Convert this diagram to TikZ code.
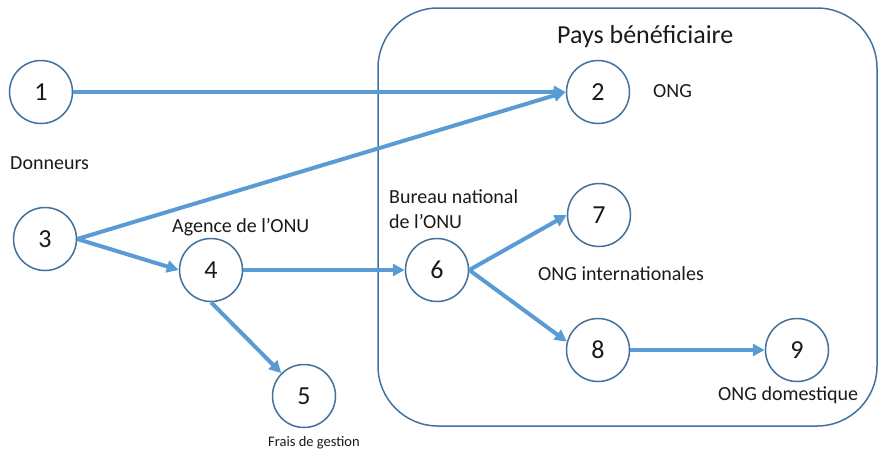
\documentclass[tikz,border=0pt]{standalone}
\usepackage{fontspec}
\setmainfont{Carlito}
\usetikzlibrary{arrows.meta}
\definecolor{outl}{HTML}{41719C}
\definecolor{arr}{HTML}{5B9BD5}
\definecolor{txt}{HTML}{1A1A1A}
\tikzset{
  num/.style={circle, draw=outl, line width=1.5pt, fill=white, minimum size=63pt, inner sep=0pt,
    font=\fontsize{26}{26}\selectfont, text=txt},
  flow/.style={draw=arr, line width=4pt, -{Triangle[length=12pt,width=12pt]}},
  lbl/.style={anchor=base west, inner sep=0pt, text=txt, font=\fontsize{20}{25}\selectfont},
  small/.style={anchor=base west, inner sep=0pt, text=txt, font=\fontsize{14.5}{17}\selectfont},
  frame/.style={draw=outl, line width=1.5pt, rounded corners=60pt}
}
\begin{document}
\begin{tikzpicture}[x=1pt,y=-1pt]
\useasboundingbox (0,0) rectangle (878,456);
\draw[frame] (378,8) rectangle (877,426);
\node[num] (n1) at (41,92) {1};
\node[num] (n2) at (598,92) {2};
\node[num] (n3) at (45,239) {3};
\node[num] (n4) at (211,270) {4};
\node[num] (n5) at (304,396) {5};
\node[num] (n6) at (437,270) {6};
\node[num] (n7) at (599,215) {7};
\node[num] (n8) at (598,350) {8};
\node[num] (n9) at (797,350) {9};
\node[anchor=base west, inner sep=0pt, text=txt, font=\fontsize{26}{30}\selectfont] (title) at (557,43) {Pays bénéficiaire};
\node[lbl] (ong) at (653,97) {ONG};
\node[lbl] (don) at (10,169) {Donneurs};
\node[lbl] (agence) at (172,232) {Agence de l’ONU};
\node[lbl] (bur1) at (389,203) {Bureau national};
\node[lbl] (bur2) at (389,228) {de l’ONU};
\node[lbl] (ongi) at (538,280) {ONG internationales};
\node[lbl] (ongd) at (718,400) {ONG domestique};
\node[small] (frais) at (268,446) {Frais de gestion};
\draw[flow] (n1.east) -- (n2.west);
\draw[flow] (n3.east) -- (n2.west);
\draw[flow] (n3.east) -- (n4.west);
\draw[flow] (n4.east) -- (n6.west);
\draw[flow] (n4.south) -- (n5);
\draw[flow] (n6.east) -- (n7.west);
\draw[flow] (n6.east) -- (n8.165);
\draw[flow] (n8.east) -- (n9.west);
\end{tikzpicture}
\end{document}
